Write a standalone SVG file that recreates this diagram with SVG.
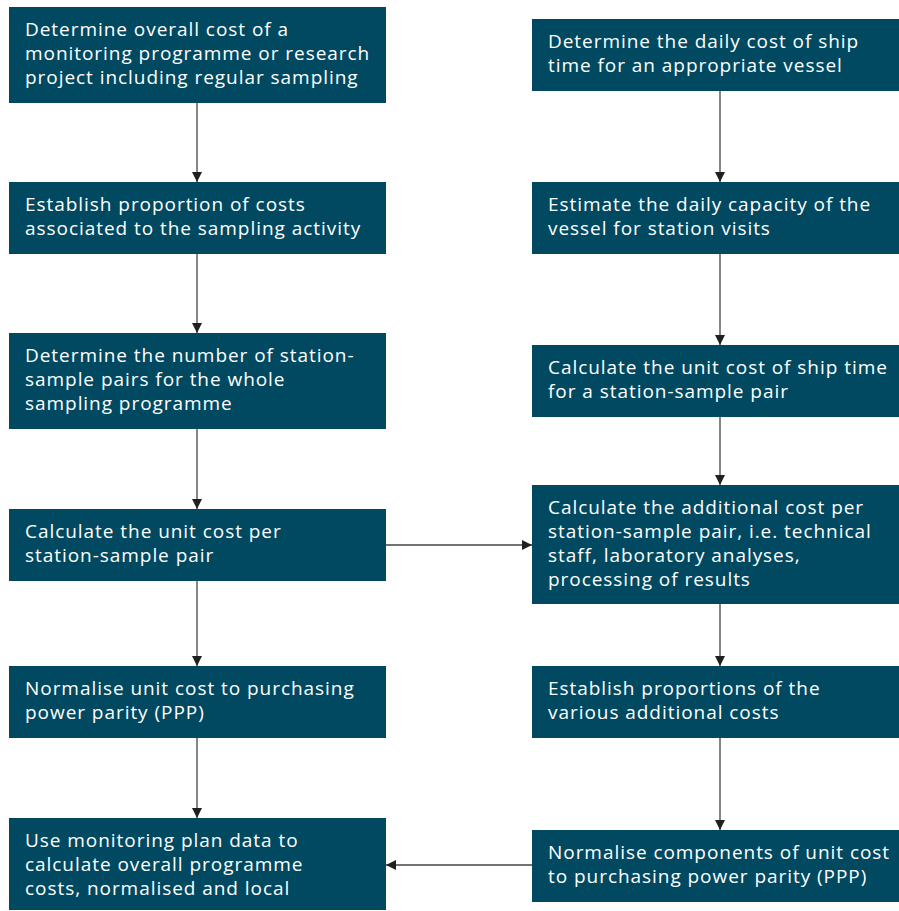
<svg xmlns="http://www.w3.org/2000/svg" width="899" height="911" viewBox="0 0 899 911">
<defs>
<marker id="ah" viewBox="0 0 10 10" refX="10" refY="5" markerWidth="10" markerHeight="10" markerUnits="userSpaceOnUse" orient="auto">
<path d="M0,0 L10,5 L0,10 Z" fill="#231f20"/>
</marker>
<style>
.box{fill:#004960}
.t{font-family:"Open Sans","Liberation Sans",sans-serif;font-size:19px;letter-spacing:0.95px;fill:#ffffff}
.c{stroke:#444;stroke-width:1.3;fill:none;marker-end:url(#ah)}
</style>
</defs>
<rect width="899" height="911" fill="#ffffff"/>
<g id="connectors">
<line class="c" x1="197" y1="103" x2="197" y2="182"/>
<line class="c" x1="197" y1="254" x2="197" y2="333"/>
<line class="c" x1="197" y1="429" x2="197" y2="509"/>
<line class="c" x1="197" y1="581" x2="197" y2="666"/>
<line class="c" x1="197" y1="738" x2="197" y2="818"/>
<line class="c" x1="720" y1="91" x2="720" y2="182"/>
<line class="c" x1="720" y1="254" x2="720" y2="345"/>
<line class="c" x1="720" y1="417" x2="720" y2="485"/>
<line class="c" x1="720" y1="604" x2="720" y2="666"/>
<line class="c" x1="720" y1="738" x2="720" y2="830"/>
<line class="c" x1="385" y1="545" x2="532" y2="545"/>
<line class="c" x1="532" y1="865" x2="386" y2="865"/>
</g>
<g id="L1"><rect class="box" x="9" y="7" width="377" height="96"/>
<text class="t" x="25" y="36">Determine overall cost of a</text>
<text class="t" x="25" y="60">monitoring programme or research</text>
<text class="t" x="25" y="84">project including regular sampling</text></g>
<g id="L2"><rect class="box" x="9" y="182" width="377" height="72"/>
<text class="t" x="25" y="211">Establish proportion of costs</text>
<text class="t" x="25" y="235">associated to the sampling activity</text></g>
<g id="L3"><rect class="box" x="9" y="333" width="377" height="96"/>
<text class="t" x="25" y="362">Determine the number of station-</text>
<text class="t" x="25" y="386">sample pairs for the whole</text>
<text class="t" x="25" y="410">sampling programme</text></g>
<g id="L4"><rect class="box" x="9" y="509" width="377" height="72"/>
<text class="t" x="25" y="538">Calculate the unit cost per</text>
<text class="t" x="25" y="562">station-sample pair</text></g>
<g id="L5"><rect class="box" x="9" y="666" width="377" height="72"/>
<text class="t" x="25" y="695">Normalise unit cost to purchasing</text>
<text class="t" x="25" y="719">power parity (PPP)</text></g>
<g id="L6"><rect class="box" x="9" y="818" width="377" height="92"/>
<text class="t" x="25" y="847">Use monitoring plan data to</text>
<text class="t" x="25" y="871">calculate overall programme</text>
<text class="t" x="25" y="895">costs, normalised and local</text></g>
<g id="R1"><rect class="box" x="532" y="19" width="367" height="72"/>
<text class="t" x="548" y="48">Determine the daily cost of ship</text>
<text class="t" x="548" y="72">time for an appropriate vessel</text></g>
<g id="R2"><rect class="box" x="532" y="182" width="367" height="72"/>
<text class="t" x="548" y="211">Estimate the daily capacity of the</text>
<text class="t" x="548" y="235">vessel for station visits</text></g>
<g id="R3"><rect class="box" x="532" y="345" width="367" height="72"/>
<text class="t" x="548" y="374">Calculate the unit cost of ship time</text>
<text class="t" x="548" y="398">for a station-sample pair</text></g>
<g id="R4"><rect class="box" x="532" y="485" width="367" height="119"/>
<text class="t" x="548" y="514">Calculate the additional cost per</text>
<text class="t" x="548" y="538">station-sample pair, i.e. technical</text>
<text class="t" x="548" y="562">staff, laboratory analyses,</text>
<text class="t" x="548" y="586">processing of results</text></g>
<g id="R5"><rect class="box" x="532" y="666" width="367" height="72"/>
<text class="t" x="548" y="695">Establish proportions of the</text>
<text class="t" x="548" y="719">various additional costs</text></g>
<g id="R6"><rect class="box" x="532" y="830" width="367" height="72"/>
<text class="t" x="548" y="859">Normalise components of unit cost</text>
<text class="t" x="548" y="883">to purchasing power parity (PPP)</text></g>
</svg>
